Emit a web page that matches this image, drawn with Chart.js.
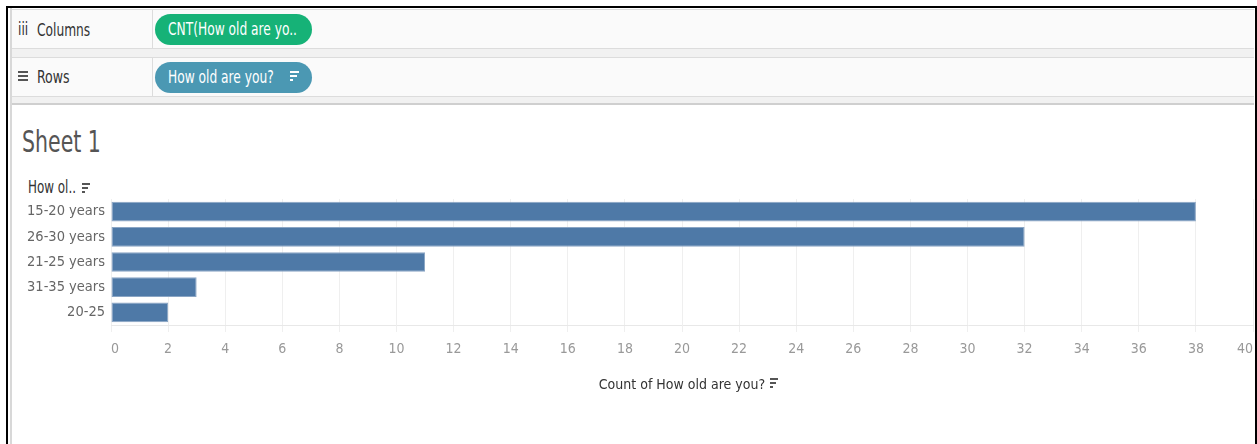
<!DOCTYPE html>
<html>
<head>
<meta charset="utf-8">
<script src="https://cdn.jsdelivr.net/npm/chart.js@4"></script>
<style>
  html, body { margin: 0; padding: 0; width: 1257px; height: 444px; overflow: hidden; background: #fff; }
  body { position: relative; font-family: 'DejaVu Sans Condensed', 'DejaVu Sans', sans-serif; }
  .abs { position: absolute; }
  .sx { display: inline-block; transform-origin: 0 50%; white-space: nowrap; }
  .frame { left: 6px; top: 6px; width: 1251px; height: 460px; border: 2px solid #000; box-sizing: border-box; z-index: 10; pointer-events: none; }
  .shelf { left: 12px; width: 1242px; background: #fafafa; border-top: 1px solid #dcdcdc; border-bottom: 1px solid #dcdcdc; box-sizing: border-box; }
  .strip { left: 12px; width: 1242px; background: #f1f1f1; }
  .divider { left: 152px; width: 1px; background: #dcdcdc; }
  .label { font-size: 17px; color: #333; white-space: nowrap; }
  .pill { left: 155px; width: 157px; height: 31px; border-radius: 16px; color: #fff; font-size: 17px; line-height: 31px; box-sizing: border-box; padding-left: 13px; white-space: nowrap; overflow: hidden; }
  .sort { width: 9px; }
  .sort i { display: block; height: 2px; margin-bottom: 2px; }
  .chartbox { left: 0; top: 105px; width: 1257px; height: 339px; }
</style>
</head>
<body>
<div class="abs frame"></div>
<!-- left grey line -->
<div class="abs" style="left:10px; top:8px; width:2px; height:436px; background:#d8d8d8;"></div>

<!-- shelves -->
<div class="abs shelf" style="top:9px; height:40px;"></div>
<div class="abs strip" style="top:49px; height:8px;"></div>
<div class="abs shelf" style="top:57px; height:40px;"></div>
<div class="abs strip" style="top:97px; height:7px;"></div>
<div class="abs" style="left:12px; top:103px; width:1242px; height:2px; background:#cfcfcf;"></div>
<div class="abs divider" style="top:9px; height:40px;"></div>
<div class="abs divider" style="top:57px; height:40px;"></div>

<div class="abs label" style="left:18px; top:19px;"><span class="sx" style="transform:scaleX(0.8);">iii</span></div>
<div class="abs label" style="left:37px; top:20px;"><span class="sx" style="transform:scaleX(0.8);">Columns</span></div>
<div class="abs" style="left:18px; top:71px; width:10px;">
  <div style="height:2px;background:#555;margin-bottom:2px;"></div>
  <div style="height:2px;background:#555;margin-bottom:2px;"></div>
  <div style="height:2px;background:#555;"></div>
</div>
<div class="abs label" style="left:37px; top:67px;"><span class="sx" style="transform:scaleX(0.82);">Rows</span></div>

<div class="abs pill" style="top:14px; background:#16b277;"><span class="sx" style="transform:scaleX(0.8);">CNT(How old are yo..</span></div>
<div class="abs pill" style="top:62px; background:#4b98b3;"><span class="sx" style="transform:scaleX(0.8);">How old are you?</span></div>
<div class="abs sort" style="left:290px; top:71px;">
  <i style="width:9px;background:#fff;"></i><i style="width:7px;background:#fff;"></i><i style="width:3px;background:#fff;"></i>
</div>

<!-- Sheet title -->
<div class="abs" style="left:22px; top:124px; font-size:30px; color:#555;"><span class="sx" style="transform:scaleX(0.76);">Sheet 1</span></div>
<div class="abs" style="left:28px; top:177px; font-size:17px; color:#333;"><span class="sx" style="transform:scaleX(0.78);">How ol..</span></div>
<div class="abs sort" style="left:82px; top:183px;">
  <i style="width:8px;background:#555;"></i><i style="width:6px;background:#555;"></i><i style="width:3px;background:#555;"></i>
</div>
<div class="abs sort" style="left:770px; top:378px;">
  <i style="width:8px;background:#555;"></i><i style="width:6px;background:#555;"></i><i style="width:3px;background:#555;"></i>
</div>

<div class="abs chartbox"><canvas id="c"></canvas></div>

<script>
const categories = ['15-20 years', '26-30 years', '21-25 years', '31-35 years', '20-25'];
const counts = [38, 32, 11, 3, 2];
const xTitle = 'Count of How old are you?';
const xMin = 0, xMax = 40, xStep = 2;

const FONT = "'DejaVu Sans Condensed', 'DejaVu Sans', sans-serif";

new Chart(document.getElementById('c'), {
  type: 'bar',
  data: {
    labels: categories,
    datasets: [{
      data: counts,
      backgroundColor: '#4e79a7',
      borderColor: '#8aa5c4',
      borderWidth: 1,
      borderSkipped: false,
      barPercentage: 0.78,
      categoryPercentage: 1.0
    }]
  },
  options: {
    indexAxis: 'y',
    responsive: true,
    maintainAspectRatio: false,
    animation: false,
    layout: { padding: { top: 94, right: 4, left: 0, bottom: 0 } },
    plugins: { legend: { display: false }, tooltip: { enabled: false } },
    scales: {
      x: {
        min: xMin, max: xMax,
        afterFit: (s) => { s.height = 119; s.paddingLeft = 0; s.paddingRight = 0; },
        ticks: { stepSize: xStep, align: 'inner', color: '#999', padding: 9, font: { family: FONT, size: 14 } },
        grid: { color: '#efefef', tickLength: 7, drawTicks: true },
        border: { display: true, color: '#e8e8e8' },
        title: { display: true, text: xTitle, color: '#333', font: { family: FONT, size: 14 }, padding: { top: 0, bottom: 50 } }
      },
      y: {
        afterFit: (s) => { s.width = 111; s.paddingTop = 0; s.paddingBottom = 0; },
        ticks: { color: '#666', padding: 6, font: { family: FONT, size: 14.5 } },
        grid: { display: false, drawTicks: false, tickLength: 0 },
        border: { display: false }
      }
    }
  }
});
</script>
</body>
</html>
